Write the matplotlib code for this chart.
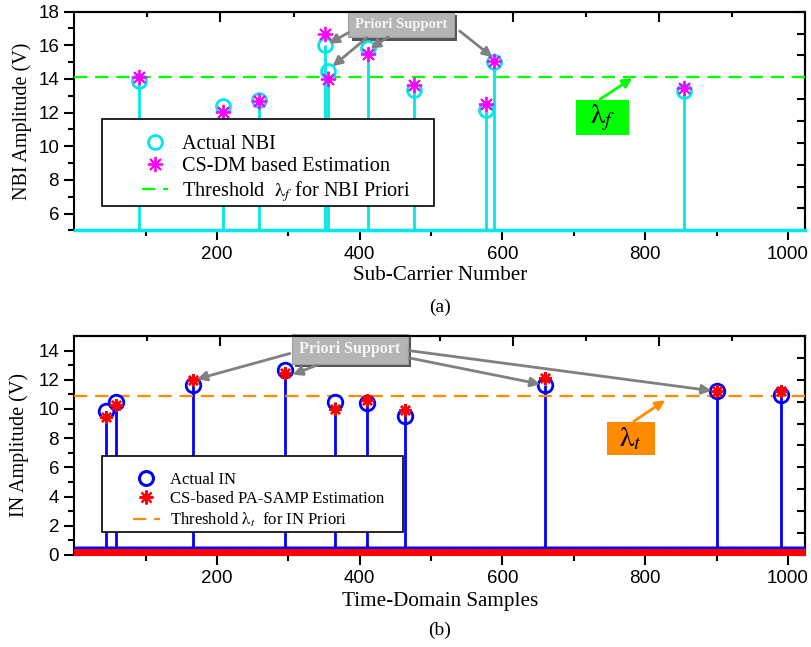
import matplotlib
matplotlib.use("Agg")
import matplotlib.pyplot as plt
import matplotlib.patheffects as pe
from matplotlib.patches import Rectangle
from matplotlib.lines import Line2D
import numpy as np

plt.rcParams['font.family'] = 'Liberation Serif'
plt.rcParams['mathtext.fontset'] = 'stix'

# ---- data ----
n_sub = 1024
nbi_idx = [91, 209, 259, 351, 356, 412, 476, 577, 588, 854]
nbi_actual = [13.9, 12.4, 12.75, 16.0, 14.5, 15.85, 13.35, 12.15, 15.0, 13.3]
nbi_est = [14.1, 12.05, 12.7, 16.65, 14.0, 15.5, 13.65, 12.5, 15.05, 13.45]
thr_f = 14.1

in_idx = [44, 58, 167, 295, 365, 410, 464, 659, 900, 990]
in_actual = [9.85, 10.5, 11.65, 12.65, 10.45, 10.4, 9.5, 11.65, 11.2, 10.95]
in_est = [9.45, 10.3, 12.0, 12.45, 10.0, 10.6, 9.9, 12.15, 11.25, 11.25]
thr_t = 10.9

samples = np.arange(1, n_sub + 1)
nbi_full = np.zeros(n_sub)
nbi_full[np.array(nbi_idx) - 1] = nbi_actual
in_full = np.zeros(n_sub)
in_full[np.array(in_idx) - 1] = in_actual
in_est_full = np.zeros(n_sub)
in_est_full[np.array(in_idx) - 1] = in_est

CYAN = '#00e8e8'
MAG = '#ff00ff'
GREEN = '#00ff00'
BLUE = '#0000ff'
RED = '#ff0000'
ORANGE = '#ff8c00'
GRAY = '#808080'
ASTER = (8, 2, 0)
DASH = (0, (6, 3.5))

fig = plt.figure(figsize=(8.11, 6.47), dpi=100)
ax1 = fig.add_axes([0.0916, 0.644, 0.901, 0.338])
ax2 = fig.add_axes([0.0916, 0.1422, 0.901, 0.3385])


def style_axes(ax, ylim, ymajor, yminor):
    ax.set_xlim(0, n_sub)
    ax.set_ylim(*ylim)
    ax.set_xticks([200, 400, 600, 800, 1000])
    ax.set_xticks([100, 300, 500, 700, 900], minor=True)
    ax.set_yticks(ymajor)
    ax.set_yticks(yminor, minor=True)
    ax.tick_params(which='major', direction='out', length=7, width=1.5, pad=4, labelsize=13.5)
    ax.tick_params(which='minor', direction='out', length=4, width=1.5)
    for lab in ax.get_xticklabels() + ax.get_yticklabels():
        lab.set_fontfamily('Liberation Sans')
    for s in ax.spines.values():
        s.set_linewidth(1.5)
    top = ax.secondary_xaxis('top')
    tt = np.linspace(0, n_sub, 11)
    top.set_xticks(tt[2:-1:2])
    top.set_xticks(tt[1:-1:2], minor=True)
    top.tick_params(which='major', direction='in', length=7, width=1.5, labeltop=False)
    top.tick_params(which='minor', direction='in', length=3.5, width=1.5)
    top.spines['top'].set_linewidth(1.5)
    right = ax.secondary_yaxis('right')
    right.set_yticks(np.linspace(ylim[0], ylim[1], 11))
    right.tick_params(direction='in', length=5.5, width=1.5, labelright=False)
    right.spines['right'].set_linewidth(1.5)


def support_box(ax, xy, text, size, pad):
    t = ax.text(xy[0], xy[1], text, ha='center', va='center', fontsize=size,
                fontweight='bold', color='#f6f6f6', zorder=2,
                bbox=dict(boxstyle='square,pad=%s' % pad, fc='#b4b4b4', ec='#a0a0a0', lw=0.8))
    t.get_bbox_patch().set_path_effects(
        [pe.SimplePatchShadow(offset=(2.5, -2.5), shadow_rgbFace='#555555', alpha=1), pe.Normal()])
    return t


def lambda_box(ax, x0, y0, x1, y1, text, color):
    ax.add_patch(Rectangle((x0, y0), x1 - x0, y1 - y0, fc=color, ec='none', zorder=6))
    ax.text((x0 + x1) / 2, (y0 + y1) / 2, text, fontsize=21, ha='center', va='center', zorder=7)


def arrow(ax, start, end, color, lw=2.0):
    ax.annotate('', xy=end, xytext=start, zorder=6,
                arrowprops=dict(arrowstyle='-|>', color=color, lw=lw, mutation_scale=14,
                                shrinkA=0, shrinkB=0))


# ---- panel (a) ----
style_axes(ax1, (5, 18), [6, 8, 10, 12, 14, 16, 18], np.arange(5, 18, 2))
ml, sl, bl = ax1.stem(samples, nbi_full, linefmt='-', markerfmt='o', basefmt='-', bottom=5)
plt.setp(sl, color=CYAN, linewidth=2)
plt.setp(ml, color=CYAN, markersize=10, markerfacecolor='none', markeredgewidth=2, zorder=4)
plt.setp(bl, color=CYAN, linewidth=2.5, clip_on=False, zorder=3)
ax1.plot(nbi_idx, nbi_est, linestyle='none', marker=ASTER, color=MAG, markersize=11,
         markeredgewidth=1.3, zorder=5)
ax1.axhline(thr_f, color=GREEN, linestyle=DASH, linewidth=1.6, zorder=3)

ax1.set_xlabel('Sub-Carrier Number', fontsize=15.2)
ax1.set_ylabel('NBI Amplitude (V)', fontsize=14.5)
ax1.xaxis.set_label_coords(0.5, -0.165)
ax1.yaxis.set_label_coords(-0.058, 0.5)

ax1.add_patch(Rectangle((0.0375, 0.111), 0.455, 0.398, transform=ax1.transAxes,
                        fc='white', ec='black', lw=1.2, zorder=7))
h1 = [Line2D([], [], linestyle='none', marker='o', markersize=10, markerfacecolor='none',
             markeredgecolor=CYAN, markeredgewidth=2),
      Line2D([], [], linestyle='none', marker=ASTER, markersize=11, color=MAG, markeredgewidth=1.3),
      Line2D([], [], color=GREEN, linestyle=DASH, linewidth=1.6)]
leg1 = ax1.legend(h1, ['Actual NBI', 'CS-DM based Estimation',
                       r'Threshold  $\mathrm{\lambda}_f$ for NBI Priori'],
                  loc='center left', bbox_to_anchor=(0.0927, 0.28), frameon=False,
                  fontsize=14.6, handlelength=1.3, handletextpad=0.65, labelspacing=0.14,
                  borderpad=0, borderaxespad=0)
leg1.set_zorder(8)

support_box(ax1, (458, 17.25), 'Priori Support', 10.5, 0.45)
arrow(ax1, (384, 16.75), (357, 16.1), GRAY)
arrow(ax1, (410, 16.45), (362, 14.75), GRAY)
arrow(ax1, (440, 16.5), (415, 15.8), GRAY)
arrow(ax1, (540, 16.85), (586, 15.3), GRAY)

lambda_box(ax1, 703, 10.64, 777, 12.76, r'$\mathrm{\lambda}_f$', GREEN)
arrow(ax1, (737, 12.8), (782, 14.05), GREEN)

# ---- panel (b) ----
style_axes(ax2, (0, 15), [0, 2, 4, 6, 8, 10, 12, 14], np.arange(1, 15, 2))
ml2, sl2, bl2 = ax2.stem(samples, in_full, linefmt='-', markerfmt='o', basefmt='-', bottom=0)
plt.setp(sl2, color=BLUE, linewidth=2)
plt.setp(ml2, color=BLUE, markersize=10.5, markerfacecolor='none', markeredgewidth=2, zorder=4)
plt.setp(bl2, color=BLUE, linewidth=2)
ax2.plot(samples, in_est_full, linestyle='none', marker=ASTER, color=RED, markersize=9,
         markeredgewidth=1.7, zorder=5)
ax2.axhline(thr_t, color=ORANGE, linestyle=DASH, linewidth=1.6, zorder=3)

ax2.set_xlabel('Time-Domain Samples', fontsize=15.2)
ax2.set_ylabel('IN Amplitude (V)', fontsize=14.5)
ax2.xaxis.set_label_coords(0.5, -0.167)
ax2.yaxis.set_label_coords(-0.062, 0.5)

ax2.add_patch(Rectangle((0.0375, 0.1037), 0.4128, 0.35, transform=ax2.transAxes,
                        fc='white', ec='black', lw=1.2, zorder=7))
h2 = [Line2D([], [], linestyle='none', marker='o', markersize=10, markerfacecolor='none',
             markeredgecolor=BLUE, markeredgewidth=2.2),
      Line2D([], [], linestyle='none', marker=ASTER, markersize=10, color=RED, markeredgewidth=1.6),
      Line2D([], [], color=ORANGE, linestyle=DASH, linewidth=1.6)]
leg2 = ax2.legend(h2, ['Actual IN', 'CS-based PA-SAMP Estimation',
                       r'Threshold $\mathrm{\lambda}_t$  for IN Priori'],
                  loc='center left', bbox_to_anchor=(0.0805, 0.249), frameon=False,
                  fontsize=12, handlelength=1.6, handletextpad=0.6, labelspacing=0.19,
                  borderpad=0, borderaxespad=0)
leg2.set_zorder(8)

support_box(ax2, (386, 14.12), 'Priori Support', 11.5, 0.45)
arrow(ax2, (302, 13.8), (172, 12.05), GRAY)
arrow(ax2, (340, 13.0), (306, 12.35), GRAY)
arrow(ax2, (469, 14.0), (893, 11.25), GRAY)
arrow(ax2, (469, 13.5), (653, 11.7), GRAY)

lambda_box(ax2, 746, 6.85, 814, 9.1, r'$\mathrm{\lambda}_t$', ORANGE)
arrow(ax2, (784, 9.15), (828, 10.6), ORANGE)

fig.text(0.542, 0.5255, '(a)', ha='center', va='center', fontsize=14)
fig.text(0.542, 0.0263, '(b)', ha='center', va='center', fontsize=14)

fig.savefig('out.png', dpi=100)
